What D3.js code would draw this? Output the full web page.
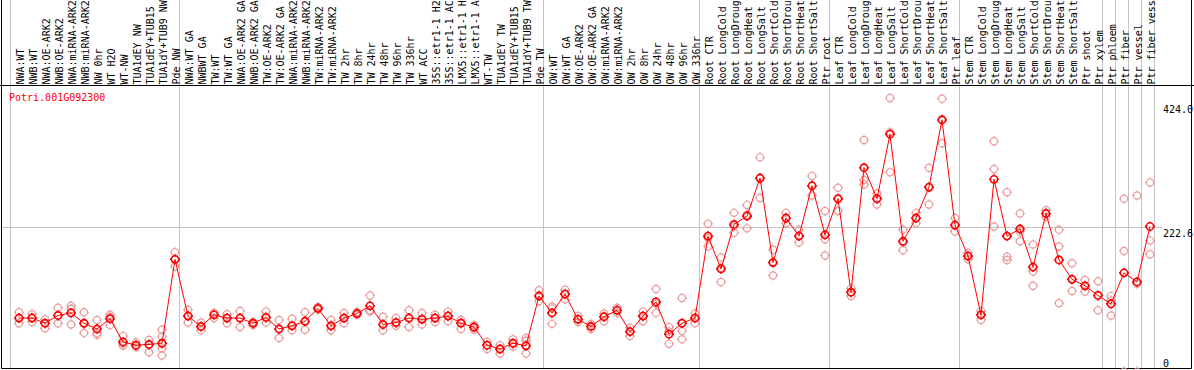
<!DOCTYPE html>
<html>
<head>
<meta charset="utf-8">
<script src="https://cdn.jsdelivr.net/npm/d3@7"></script>
<style>
  html, body { margin: 0; padding: 0; background: #fff; }
  svg { display: block; }
  text { font-family: "DejaVu Sans Mono", "Liberation Mono", monospace; font-size: 10px; }
</style>
</head>
<body>
<svg id="chart" width="1194" height="370"></svg>
<script>
const title = "Potri.001G092300";

const categories = [
  "NWA:WT","NWB:WT","NWA:OE-ARK2","NWB:OE-ARK2","NWA:miRNA-ARK2","NWB:miRNA-ARK2","NW 0hr","WT H2O","WT-NW","TUA1dEY NW","TUA1dEY+TUB15","TUA1dY+TUB9 NW","Pde NW",
  "NWA:WT GA","NWBWT GA","TW:WT","TW:WT GA","NWA:OE-ARK2 GA","NWB:OE-ARK2 GA","TW:OE-ARK2","TW:OE-ARK2 GA","NWA:miRNA-ARK2","NWB:miRNA-ARK2","TW:miRNA-ARK2","TW:miRNA-ARK2","TW 2hr","TW 8hr","TW 24hr","TW 48hr","TW 96hr","TW 336hr","WT ACC","35S::etr1-1 H2","35S::etr1-1 AC","LMX5::etr1-1 H","LMX5::etr1-1 A","WT-TW","TUA1dEY TW","TUA1dEY+TUB15","TUA1dY+TUB9 TW","Pde TW",
  "OW:WT","OW:WT GA","OW:OE-ARK2","OW:OE-ARK2 GA","OW:miRNA-ARK2","OW:miRNA-ARK2","OW 2hr","OW 8hr","OW 24hr","OW 48hr","OW 96hr","OW 336hr",
  "Root CTR","Root LongCold","Root LongDroug","Root LongHeat","Root LongSalt","Root ShortCold","Root ShortDrou","Root ShortHeat","Root ShortSalt","Ptr root",
  "Leaf CTR","Leaf LongCold","Leaf LongDroug","Leaf LongHeat","Leaf LongSalt","Leaf ShortCold","Leaf ShortDrou","Leaf ShortHeat","Leaf ShortSalt","Ptr leaf",
  "Stem CTR","Stem LongCold","Stem LongDroug","Stem LongHeat","Stem LongSalt","Stem ShortCold","Stem ShortDrou","Stem ShortHeat","Stem ShortSalt","Ptr shoot","Ptr xylem",
  "Ptr phloem","Ptr fiber","Ptr vessel","Ptr fiber vess"
];

// Indices after which a group separator is drawn (-1 = before the first)
const groupBreaks = [-1, 12, 40, 52, 62, 72, 83, 84, 85, 86, 87];

const means = [
  83, 83, 75, 87, 91, 75, 66, 82, 46, 41, 42, 44, 174,
  86, 70, 88, 83, 83, 75, 84, 66, 71, 78, 98, 71, 83, 90, 102, 73, 76, 83, 81, 83, 86, 75, 69, 41, 35, 44, 40, 117,
  91, 120, 81, 70, 85, 95, 62, 86, 108, 58, 75, 83,
  210, 159, 228, 241, 300, 169, 238, 210, 288, 212,
  268, 123, 316, 268, 368, 202, 238, 286, 390, 227,
  179, 88, 298, 210, 221, 162, 245, 173, 143, 133, 118,
  105, 153, 139, 225
];

const replicates = [
  [92,83,75],[89,84,77],[81,75,67],[99,87,75],[102,97,73],[92,74,60],[80,60,57],[88,85,72],[55,43,40],[45,40,38],[49,42,30],[65,54,43,36,25],[185,174,163],
  [96,87,76],[76,69,64],[91,88,83],[89,83,75],[94,83,69],[77,75,72],[93,84,76],[80,66,52],[82,71,64],[92,78,65],[100,98,96],[80,71,64],[91,83,75],[92,90,88],[118,95,93],[85,73,64],[83,76,71],[95,83,69],[91,82,73],[88,83,77],[93,87,78],[80,76,66],[72,68,65],[46,41,35],[41,35,28],[50,43,39],[52,48,41,28],[126,118,109],
  [101,98,74],[127,121,112],[86,82,77],[74,70,66],[90,85,78],[99,95,91],[68,62,55],[93,86,78],[128,105,91],[69,62,43],[114,63,50],[90,83,75],
  [229,207,194],[177,161,139],[246,225,215],[258,243,222],[332,299,269],[189,169,149],[246,238,230],[220,210,200],[303,288,273],[249,205,180],
  [285,267,249],[129,123,117],[359,297,290],[276,268,259],[424,371,309],[220,200,188],[246,238,230],[316,285,259],[423,391,354],[238,227,217],
  [184,179,174],[94,88,80],[357,314,225],[278,178,173],[245,217,202],[197,155,133],[250,245,240],[220,194,106],[168,143,125],[142,133,124],[140,118,95],
  [117,110,87],[268,187,0],[273,136,0],[293,203,182]
];

const yTickValues = [424.0, 222.6, 0];
const yGridValues = [222.6];

const W = 1194, H = 370;
const svg = d3.select("#chart");

const x = d3.scalePoint().domain(d3.range(categories.length)).range([19, 1150]);
const y = d3.scaleLinear().domain([0, 424]).range([371.6, 98]);
const step = x.step();

// group separators (full height)
svg.append("g").selectAll("line").data(groupBreaks).join("line")
  .attr("x1", d => Math.round(x(0) + d * step + 5) - 0.5)
  .attr("x2", d => Math.round(x(0) + d * step + 5) - 0.5)
  .attr("y1", 0).attr("y2", 368)
  .attr("stroke", "#c4c4c4").attr("stroke-width", 1);

// horizontal grid
svg.append("g").selectAll("line").data(yGridValues).join("line")
  .attr("x1", 1).attr("x2", 1163)
  .attr("y1", d => Math.round(y(d)) - 0.5).attr("y2", d => Math.round(y(d)) - 0.5)
  .attr("stroke", "#c4c4c4").attr("stroke-width", 1);

// header separator
svg.append("line").attr("x1", 0).attr("x2", W).attr("y1", 85.5).attr("y2", 85.5)
  .attr("stroke", "#000").attr("stroke-width", 1);

// outer frame
svg.append("path")
  .attr("d", "M1.5,-2 V368.5 H1191.5 V-2")
  .attr("fill", "none").attr("stroke", "#000").attr("stroke-width", 1);

// category labels
svg.append("g").selectAll("text").data(categories).join("text")
  .attr("transform", (d, i) => `translate(${x(i) + 4.5},84.5) rotate(-90)`)
  .attr("text-anchor", "start")
  .attr("fill", "#000")
  .text(d => d);

// title
svg.append("text").attr("x", 9).attr("y", 100.5).attr("fill", "#ff0000").text(title);

// right axis labels
const axis = d3.axisRight(y).tickValues(yTickValues).tickSize(0).tickPadding(0)
  .tickFormat(d => d === 0 ? "0" : d3.format(".1f")(d));
const ag = svg.append("g").attr("transform", "translate(1163,0)").call(axis);
ag.select(".domain").remove();
ag.selectAll("text")
  .attr("font-family", "DejaVu Sans Mono, monospace").attr("font-size", 10)
  .attr("fill", "#000")
  .attr("dy", null)
  .attr("y", function(d) { return Math.max(112, Math.min(366, y(d) + 9)) - y(d); });

// marker shape: small circle with short nubs at the four cardinal points
const R = 3.6, N = 1.4;
const markerPath = `M${R},0 A${R},${R} 0 1,1 ${-R},0 A${R},${R} 0 1,1 ${R},0 Z` +
  `M0,${-R} v${-N} M0,${R} v${N} M${-R},0 h${-N} M${R},0 h${N}`;

// replicates
const repPts = [];
replicates.forEach((arr, i) => arr.forEach(v => repPts.push({ i, v })));
svg.append("g").selectAll("path").data(repPts).join("path")
  .attr("transform", d => `translate(${x(d.i)},${y(d.v)})`)
  .attr("d", markerPath)
  .attr("fill", "none").attr("stroke", "#ec9a9a").attr("stroke-width", 1.2);

// mean line
svg.append("path").datum(means)
  .attr("d", d3.line().x((d, i) => x(i)).y(d => y(d)))
  .attr("fill", "none").attr("stroke", "#ff0000").attr("stroke-width", 1);

// mean points
svg.append("g").selectAll("path").data(means).join("path")
  .attr("transform", (d, i) => `translate(${x(i)},${y(d)})`)
  .attr("d", markerPath)
  .attr("fill", "none").attr("stroke", "#ff0000").attr("stroke-width", 1.6);
</script>
</body>
</html>
